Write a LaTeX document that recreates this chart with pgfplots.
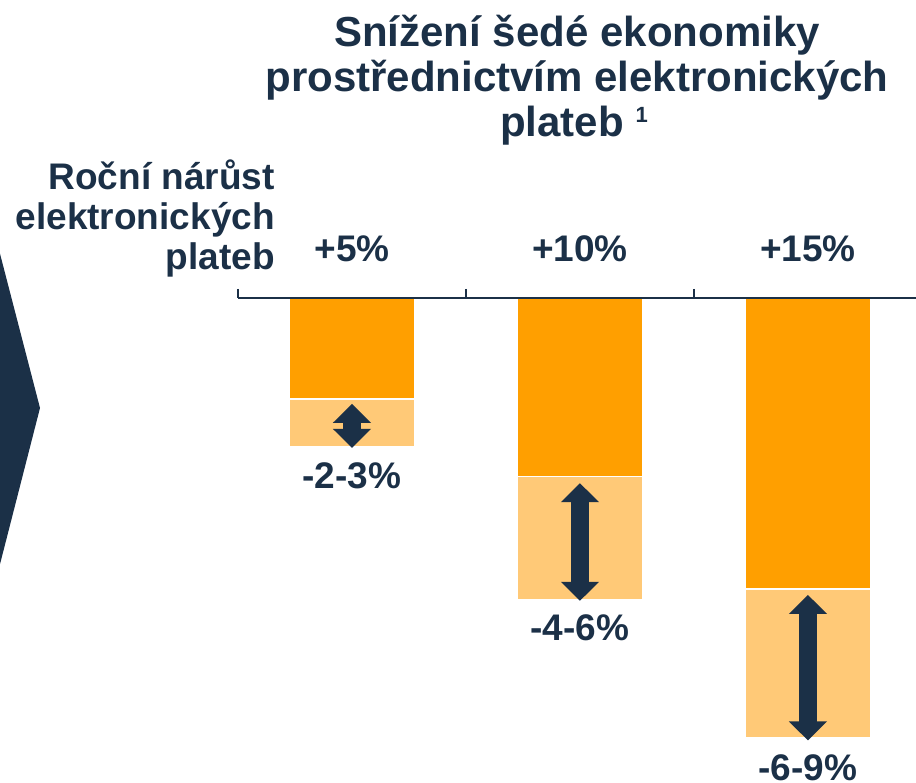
\documentclass[border=0pt]{standalone}
\usepackage{pgfplots}
\pgfplotsset{compat=1.18}
\usepackage{fontspec}
\setmainfont{Liberation Sans}
\usetikzlibrary{arrows.meta}
\definecolor{navy}{HTML}{1B3047}
\definecolor{darkorange}{HTML}{FF9F00}
\definecolor{lightorange}{HTML}{FFC977}
\newcommand{\lab}{\fontsize{37}{40}\selectfont\bfseries}
\newcommand{\ttl}{\fontsize{42}{45}\selectfont\bfseries}
\begin{document}
\begin{tikzpicture}
\path[use as bounding box] (0pt,0pt) rectangle (916pt,783pt);
% decorative chevron
\fill[navy] (-2pt,537pt) -- (40pt,375pt) -- (-2pt,211pt) -- cycle;
% title
\node[anchor=base, text=navy, font=\ttl, inner sep=0pt] at (577pt,736pt) {Snížení šedé ekonomiky};
\node[anchor=base, text=navy, font=\ttl, inner sep=0pt] at (577pt,691pt) {prostřednictvím elektronických};
\node[anchor=base, text=navy, font=\ttl, inner sep=0pt] at (574pt,646pt) {plateb \raisebox{14pt}{\fontsize{22}{22}\selectfont 1}};
% row label
\node[anchor=base east, text=navy, font=\lab, inner sep=0pt] at (275pt,593pt) {Roční nárůst};
\node[anchor=base east, text=navy, font=\lab, inner sep=0pt] at (275pt,553pt) {elektronických};
\node[anchor=base east, text=navy, font=\lab, inner sep=0pt] at (275pt,513pt) {plateb};
\begin{axis}[
  at={(238pt,485pt)}, anchor=north west,
  scale only axis, width=678pt, height=485pt,
  xmin=-0.5, xmax=2.474, ymin=-9.898, ymax=0,
  axis x line*=top, axis y line=none,
  axis line style={navy, line width=1.5pt, -},
  xtick={0,1,2}, xticklabels={+5\%,+10\%,+15\%},
  minor xtick={-0.5,0.5,1.5,2.5},
  major tick length=0pt, minor tick length=9pt,
  tick align=outside, tick style={navy, line width=1.5pt},
  xticklabel pos=upper,
  xticklabel style={font=\lab, text=navy, inner sep=0pt, yshift=36pt, anchor=south},
  axis on top, clip=false,
]
% light (upper bound of range)
\addplot[ybar, bar width=125pt, bar shift=0pt, fill=lightorange, draw=white, line width=1.2pt]
  coordinates {(0,-3.03) (1,-6.16) (2,-8.98)};
% dark (lower bound of range)
\addplot[ybar, bar width=125pt, bar shift=0pt, fill=darkorange, draw=white, line width=1.2pt]
  coordinates {(0,-2.06) (1,-3.64) (2,-5.94)};
% range arrows
\addplot[navy, line width=18pt, {Triangle[width=37pt,length=19pt]}-{Triangle[width=37pt,length=19pt]}]
  coordinates {(0,-2.16) (0,-3.06)};
\addplot[navy, line width=18pt, {Triangle[width=37pt,length=19pt]}-{Triangle[width=37pt,length=19pt]}]
  coordinates {(1,-3.78) (1,-6.18)};
\addplot[navy, line width=18pt, {Triangle[width=37pt,length=19pt]}-{Triangle[width=37pt,length=19pt]}]
  coordinates {(2,-6.06) (2,-9.03)};
% range labels
\node[anchor=north, text=navy, font=\lab, inner sep=0pt, yshift=-16pt] at (axis cs:0,-3.03) {-2-3\%};
\node[anchor=north, text=navy, font=\lab, inner sep=0pt, yshift=-15pt] at (axis cs:1,-6.16) {-4-6\%};
\node[anchor=north, text=navy, font=\lab, inner sep=0pt, yshift=-16pt] at (axis cs:2,-8.98) {-6-9\%};
\end{axis}
\end{tikzpicture}
\end{document}
